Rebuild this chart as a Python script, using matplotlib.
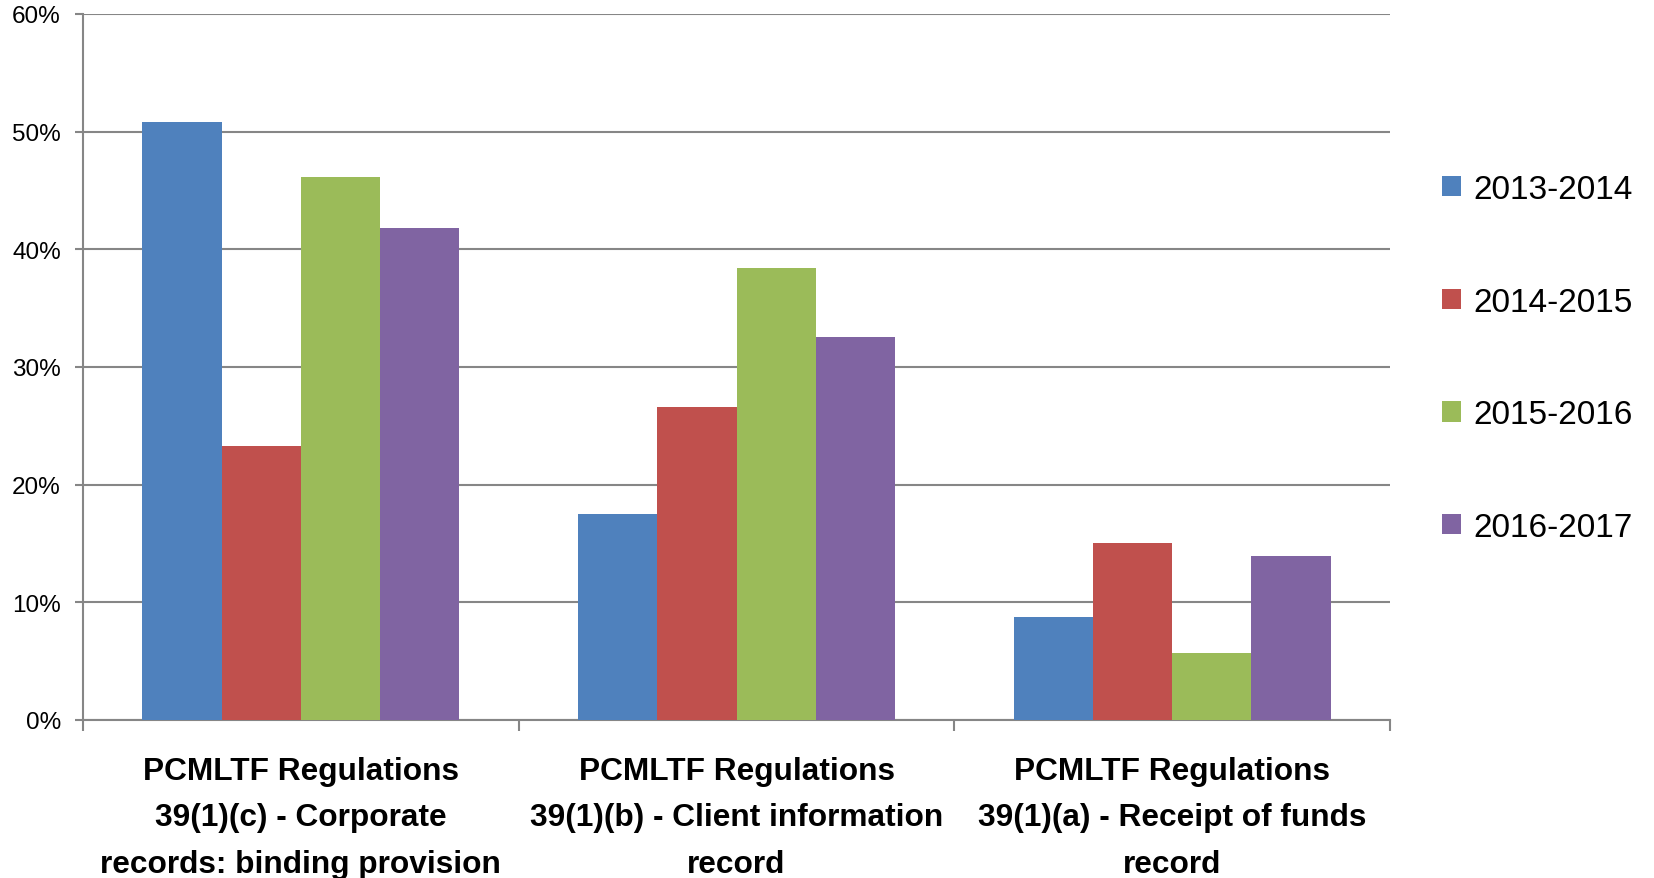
import numpy as np
import matplotlib
matplotlib.use('Agg')
import matplotlib.pyplot as plt
from matplotlib.ticker import FuncFormatter

plt.rcParams['font.family'] = ['Liberation Sans', 'DejaVu Sans']

# 数据
categories = ['PCMLTF Regulations\n39(1)(c) - Corporate\nrecords: binding provision',
              'PCMLTF Regulations\n39(1)(b) - Client information\nrecord',
              'PCMLTF Regulations\n39(1)(a) - Receipt of funds\nrecord']
years = ['2013-2014', '2014-2015', '2015-2016', '2016-2017']
v_2013 = [0.508, 0.175, 0.087]
v_2014 = [0.233, 0.266, 0.150]
v_2015 = [0.461, 0.384, 0.057]
v_2016 = [0.418, 0.325, 0.139]
series = [v_2013, v_2014, v_2015, v_2016]
colors = ['#4F81BD', '#C0504D', '#9BBB59', '#8064A2']

fig = plt.figure(figsize=(16.54, 8.79), dpi=100)
ax = fig.add_axes([0.0502, 0.180, 0.7902, 0.803])

x = np.arange(len(categories))
w = 1 / 5.5
for i, (vals, c, lab) in enumerate(zip(series, colors, years)):
    ax.bar(x + (i - 1.5) * w, vals, width=w, color=c, label=lab, linewidth=0, zorder=3)

ax.set_xlim(-0.5, 2.5)
ax.set_ylim(0, 0.6)
ax.set_yticks(np.arange(0, 0.61, 0.1))
ax.yaxis.set_major_formatter(FuncFormatter(lambda v, p: f'{v*100:.0f}%'))
ax.grid(axis='y', color='#868686', linewidth=1.5, zorder=0)

for s in ['top', 'right']:
    ax.spines[s].set_visible(False)
for s in ['left', 'bottom']:
    ax.spines[s].set_color('#868686')
    ax.spines[s].set_linewidth(1.5)

# x轴：分隔刻度 + 居中标签
ax.set_xticks([-0.5, 0.5, 1.5, 2.5])
ax.set_xticklabels([])
ax.tick_params(axis='x', which='major', length=8, width=1.5, color='#868686')
ax.set_xticks(x, minor=True)
ax.set_xticklabels(categories, minor=True, fontsize=22.8, fontweight='bold', linespacing=1.72)
ax.tick_params(axis='x', which='minor', length=0, pad=26)
ax.tick_params(axis='y', length=6, width=1.5, color='#868686', labelsize=17.5, pad=10)

fig.legend(loc='center left', bbox_to_anchor=(0.872, 0.591), frameon=False, fontsize=24,
           handlelength=0.57, handleheight=0.57, handletextpad=0.36, labelspacing=2.45,
           borderpad=0, borderaxespad=0)

plt.savefig('out.png', dpi=100)
